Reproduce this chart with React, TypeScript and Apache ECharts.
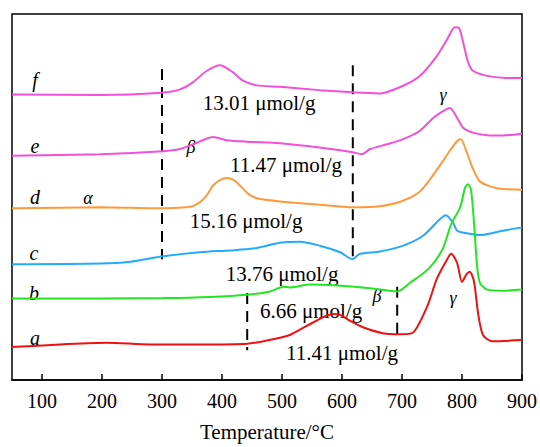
import React, { useEffect, useRef } from "react";
import * as echarts from "echarts";

const X_TICKS = [100, 200, 300, 400, 500, 600, 700, 800, 900];

const TEMP_F = [50, 197, 300, 330, 352, 375, 397, 418, 435, 458, 497, 563, 618, 663, 702, 730, 758, 775, 788, 795, 802, 810, 818, 842, 868, 900];
const VAL_F = [78.0, 77.9, 78.5, 79.4, 81.4, 84.5, 86.0, 84.1, 81.8, 80.5, 80.1, 79.2, 78.6, 78.3, 80.4, 83.1, 88.5, 93.0, 96.4, 96.2, 92.2, 86.9, 84.5, 83.1, 82.6, 82.5];

const TEMP_E = [50, 197, 302, 330, 352, 375, 385, 408, 442, 497, 563, 618, 633, 647, 675, 702, 730, 752, 772, 780, 792, 802, 818, 842, 868, 900];
const VAL_E = [61.3, 61.7, 62.5, 63.1, 64.4, 66.0, 66.4, 65.5, 65.1, 64.7, 63.5, 62.2, 61.7, 63.1, 64.4, 65.8, 68.1, 71.6, 73.8, 74.3, 71.6, 68.9, 67.6, 66.9, 66.8, 67.3];

const TEMP_D = [50, 197, 302, 340, 355, 372, 385, 397, 408, 420, 432, 445, 460, 497, 563, 618, 663, 697, 730, 758, 780, 792, 798, 808, 817, 830, 858, 900];
const VAL_D = [46.9, 47.2, 46.9, 47.2, 47.7, 49.9, 53.1, 54.7, 55.2, 54.6, 52.8, 50.7, 49.6, 48.8, 47.9, 47.2, 47.5, 48.7, 51.5, 57.4, 62.7, 65.3, 65.8, 62.2, 58.2, 54.2, 52.4, 52.0];

const TEMP_C = [50, 197, 247, 302, 363, 413, 452, 497, 530, 563, 597, 617, 630, 663, 702, 735, 763, 773, 785, 792, 808, 830, 868, 900];
const VAL_C = [31.6, 31.8, 32.3, 33.8, 34.9, 35.4, 35.9, 37.5, 37.8, 36.7, 34.9, 33.0, 34.5, 35.1, 36.7, 39.4, 43.9, 45.0, 43.0, 40.8, 40.1, 39.6, 40.8, 41.7];

const TEMP_B = [50, 197, 302, 380, 442, 480, 502, 513, 547, 592, 647, 692, 713, 745, 768, 782, 797, 805, 810, 815, 820, 825, 830, 842, 868, 900];
const VAL_B = [22.3, 22.3, 22.4, 22.7, 23.3, 24.2, 25.5, 25.3, 26.1, 25.8, 25.1, 24.2, 26.5, 30.5, 35.9, 42.6, 47.2, 52.5, 53.5, 52.0, 43.0, 31.4, 26.5, 24.7, 24.4, 24.7];

const TEMP_A = [50, 130, 208, 280, 363, 442, 475, 513, 547, 585, 597, 613, 635, 668, 697, 718, 742, 758, 773, 782, 792, 800, 808, 813, 820, 827, 835, 850, 900];
const VAL_A = [9.0, 9.7, 10.2, 9.7, 9.7, 9.9, 10.8, 12.3, 15.3, 18.0, 17.8, 16.2, 14.4, 12.8, 12.5, 12.9, 20.1, 27.6, 32.3, 34.5, 31.9, 26.8, 29.0, 29.6, 26.9, 18.0, 12.3, 10.6, 10.9];

// dashed boundary lines: [temperature, top value, bottom value]
const DASH_LINES: [number, number, number][] = [
  [300, 85, 33],
  [618, 86, 33.5],
  [442, 23.8, 8.1],
  [692, 25.5, 11.7],
];

const CURVE_LABELS = ["f", "e", "d", "c", "b", "a"];
const AMOUNT_LABELS = ["13.01 μmol/g", "11.47 μmol/g", "15.16 μmol/g", "13.76 μmol/g", "6.66 μmol/g", "11.41 μmol/g"];

const SERIF = "'Liberation Serif', 'Times New Roman', serif";

function zip(t: number[], v: number[]) {
  return t.map((x, i) => [x, v[i]]);
}

export default function App() {
  const ref = useRef<HTMLDivElement>(null);
  useEffect(() => {
    if (!ref.current) return;
    const chart = echarts.init(ref.current, undefined, { renderer: "svg" });
    const curves = [
      { d: zip(TEMP_F, VAL_F), c: "#f250d8" },
      { d: zip(TEMP_E, VAL_E), c: "#f250d8" },
      { d: zip(TEMP_D, VAL_D), c: "#ff9a3c" },
      { d: zip(TEMP_C, VAL_C), c: "#22aaff" },
      { d: zip(TEMP_B, VAL_B), c: "#22e622" },
      { d: zip(TEMP_A, VAL_A), c: "#ee1111" },
    ];
    const series: any[] = curves.map((cv) => ({
      type: "line",
      data: cv.d,
      smooth: 0.25,
      symbol: "none",
      lineStyle: { color: cv.c, width: 2 },
      z: 3,
    }));
    DASH_LINES.forEach(([t, top, bot]) => {
      series.push({
        type: "line",
        data: [[t, top], [t, bot]],
        symbol: "none",
        lineStyle: { color: "#000", width: 2, type: [11, 7] },
        z: 2,
      });
    });

    const labelPos = [
      [35, 80], [35, 146], [35, 197], [34, 253], [34, 293], [35, 338],
    ];
    const amountPos = [
      [259, 103], [286, 165], [246, 221], [282, 274], [311, 311], [342, 353],
    ];
    const greek = [
      { t: "α", x: 88, y: 198 },
      { t: "β", x: 191, y: 147 },
      { t: "γ", x: 443, y: 95 },
      { t: "β", x: 377, y: 296 },
      { t: "γ", x: 453, y: 298 },
    ];
    const graphics: any[] = [];
    CURVE_LABELS.forEach((l, i) => {
      graphics.push({
        type: "text",
        x: labelPos[i][0],
        y: labelPos[i][1],
        style: { text: l, fontSize: 20, fontFamily: SERIF, fontStyle: "italic", fill: "#000", align: "center", verticalAlign: "middle" },
      });
    });
    AMOUNT_LABELS.forEach((l, i) => {
      graphics.push({
        type: "text",
        x: amountPos[i][0],
        y: amountPos[i][1],
        style: { text: l, fontSize: 21, fontFamily: SERIF, fill: "#000", align: "center", verticalAlign: "middle" },
      });
    });
    greek.forEach((g) => {
      graphics.push({
        type: "text",
        x: g.x,
        y: g.y,
        style: { text: g.t, fontSize: 18, fontFamily: SERIF, fontStyle: "italic", fill: "#000", align: "center", verticalAlign: "middle" },
      });
    });

    chart.setOption({
      animation: false,
      backgroundColor: "#fff",
      grid: { left: 12, top: 14, width: 511, height: 373, show: true, borderColor: "#000", borderWidth: 1.5, containLabel: false },
      xAxis: {
        type: "value",
        min: 50,
        max: 900,
        name: "Temperature/°C",
        nameLocation: "middle",
        nameGap: 41,
        nameTextStyle: { fontSize: 21, fontFamily: SERIF, color: "#000" },
        axisLine: { show: true, lineStyle: { color: "#000", width: 1.5 } },
        axisTick: { show: true, inside: true, length: 6, lineStyle: { color: "#000", width: 1.5 }, customValues: X_TICKS },
        axisLabel: { show: true, fontSize: 20, fontFamily: SERIF, color: "#000", margin: 11, customValues: X_TICKS },
        splitLine: { show: false },
      },
      yAxis: { type: "value", min: 0, max: 100, show: false },
      series,
      graphic: graphics,
    });
    return () => chart.dispose();
  }, []);
  return <div ref={ref} style={{ position: "fixed", left: 0, top: 0, width: 540, height: 447 }} />;
}
